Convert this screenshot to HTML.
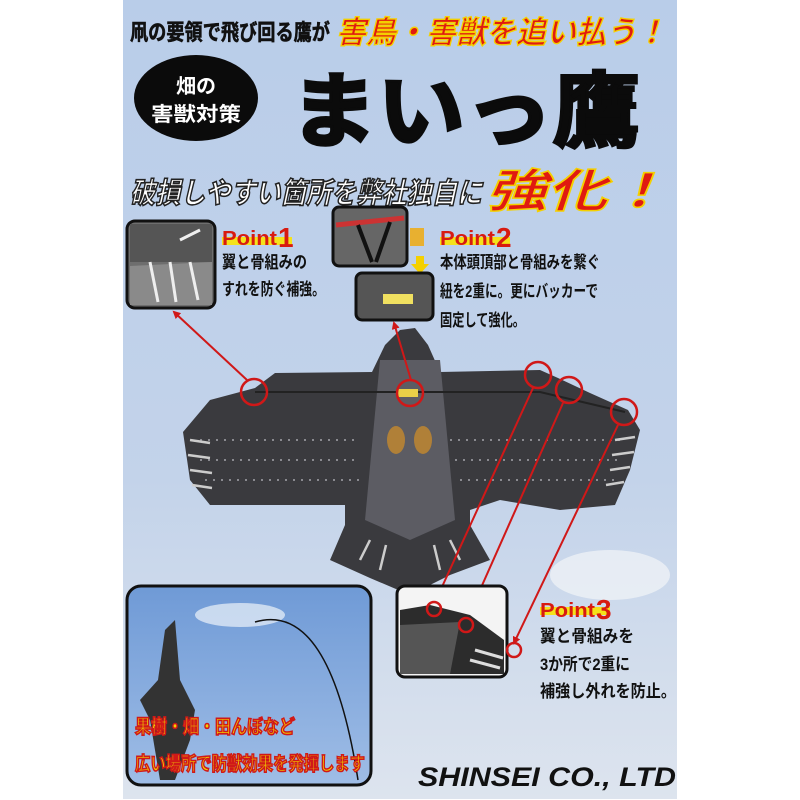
<!DOCTYPE html>
<html><head><meta charset="utf-8"><style>
html,body{margin:0;padding:0;background:#fff;}
svg{display:block}
text{font-family:"Liberation Sans","Noto Sans CJK JP",sans-serif;font-weight:bold}
</style></head><body>
<svg width="800" height="800" viewBox="0 0 800 800" xmlns="http://www.w3.org/2000/svg">
<defs>
<linearGradient id="bg" x1="0" y1="0" x2="0" y2="1">
<stop offset="0" stop-color="#b9cde9"/><stop offset="0.6" stop-color="#c3d3ea"/><stop offset="1" stop-color="#dde4ee"/>
</linearGradient>
<linearGradient id="sky" x1="0" y1="0" x2="0" y2="1">
<stop offset="0" stop-color="#6f9ad6"/><stop offset="1" stop-color="#9fbde6"/>
</linearGradient>
<marker id="ar" markerWidth="8" markerHeight="8" refX="6" refY="4" orient="auto" markerUnits="userSpaceOnUse">
<path d="M0,0 L8,4 L0,8 z" fill="#d01818"/>
</marker>
</defs>
<rect x="123" y="0" width="554" height="799" fill="url(#bg)"/>
<ellipse cx="610" cy="575" rx="60" ry="25" fill="#eef1f6" opacity="0.8"/>

<!-- header -->
<text x="130" y="40" font-size="22" fill="#111" stroke="#111" stroke-width="0.6" textLength="200" lengthAdjust="spacingAndGlyphs">凧の要領で飛び回る鷹が</text>
<text x="336" y="43" font-size="31" fill="#e01a10" stroke="#f4d000" stroke-width="1.4" font-style="italic" textLength="330" lengthAdjust="spacingAndGlyphs">害鳥・害獣を追い払う！</text>
<ellipse cx="196" cy="98" rx="62" ry="43" fill="#0b0b0b"/>
<text x="196" y="93" font-size="20" fill="#fff" text-anchor="middle">畑の</text>
<text x="196" y="121" font-size="20" fill="#fff" text-anchor="middle" textLength="90" lengthAdjust="spacingAndGlyphs">害獣対策</text>
<text x="290" y="140" font-size="82" fill="#0b0b0b" stroke="#0b0b0b" stroke-width="3" textLength="350" lengthAdjust="spacingAndGlyphs">まいっ鷹</text>
<text x="130" y="203" font-size="29" fill="#fff" stroke="#222" stroke-width="1.6" font-style="italic" textLength="352" lengthAdjust="spacingAndGlyphs">破損しやすい箇所を弊社独自に</text>
<text x="486" y="207" font-size="46" fill="#e01a10" stroke="#f4d000" stroke-width="1.5" font-style="italic" textLength="182" lengthAdjust="spacingAndGlyphs">強化！</text>

<!-- point1 inset -->
<rect x="127" y="221" width="88" height="87" rx="8" fill="#6e6e6e" stroke="#111" stroke-width="3"/>
<path d="M130,224 L212,224 L212,262 L130,262 z" fill="#555"/>
<path d="M130,266 L212,262 L212,305 L130,305 z" fill="#8a8a8a"/>
<path d="M150,262 l8,40 M170,262 l6,40 M190,262 l8,38 M180,240 l20,-10" stroke="#eee" stroke-width="3"/>
<rect x="222" y="237" width="70" height="8" fill="#f4e21a"/>
<text x="222" y="245" font-size="20" fill="#d81a10" textLength="55" lengthAdjust="spacingAndGlyphs">Point</text>
<text x="278" y="247" font-size="28" fill="#d81a10">1</text>
<text x="222" y="268" font-size="17" fill="#111" textLength="85" lengthAdjust="spacingAndGlyphs">翼と骨組みの</text>
<text x="222" y="295" font-size="17" fill="#111" textLength="103" lengthAdjust="spacingAndGlyphs">すれを防ぐ補強。</text>

<!-- point2 insets -->
<rect x="333" y="207" width="74" height="59" rx="6" fill="#666" stroke="#111" stroke-width="3"/>
<path d="M336,225 L404,218" stroke="#c33" stroke-width="5"/>
<path d="M358,225 L372,262 M390,222 L376,262" stroke="#111" stroke-width="4"/>
<rect x="410" y="228" width="14" height="18" fill="#e8b030"/>
<path d="M416,256 h8 v8 h5 l-9,10 l-9,-10 h5z" fill="#f4d000"/>
<rect x="356" y="273" width="77" height="47" rx="6" fill="#555" stroke="#111" stroke-width="3"/>
<rect x="383" y="294" width="30" height="10" fill="#f0e060"/>
<rect x="440" y="237" width="70" height="8" fill="#f4e21a"/>
<text x="440" y="245" font-size="20" fill="#d81a10" textLength="55" lengthAdjust="spacingAndGlyphs">Point</text>
<text x="496" y="247" font-size="28" fill="#d81a10">2</text>
<text x="440" y="268" font-size="17" fill="#111" textLength="160" lengthAdjust="spacingAndGlyphs">本体頭頂部と骨組みを繋ぐ</text>
<text x="440" y="297" font-size="17" fill="#111" textLength="158" lengthAdjust="spacingAndGlyphs">紐を2重に。更にバッカーで</text>
<text x="440" y="326" font-size="17" fill="#111" textLength="85" lengthAdjust="spacingAndGlyphs">固定して強化。</text>

<!-- bird -->
<path d="M183,432 L210,400 L255,388 L275,373 L372,372 L385,345 L400,330 L415,328 L428,345 L440,372 L540,370 L558,378 L590,393 L628,410 L640,430 L630,470 L615,505 L560,510 L500,500 L470,510 L470,525 L490,560 L450,575 L410,595 L370,578 L330,560 L345,525 L345,505 L300,505 L210,505 L190,480 z" fill="#3a3a3e"/>
<path d="M380,360 L440,360 L455,520 L410,540 L365,520 z" fill="#5c5c63"/>
<path d="M200,440 L360,440 M200,460 L360,460 M205,480 L360,480 M450,440 L625,440 M455,460 L620,460 M460,480 L615,480" stroke="#8a8a90" stroke-width="2" stroke-dasharray="2,6"/>
<path d="M190,440 l20,3 M188,455 l22,3 M190,470 l22,3 M192,485 l20,3 M615,440 l20,-3 M612,455 l22,-3 M610,470 l20,-3 M606,485 l18,-3 M360,560 l10,-20 M380,570 l6,-25 M440,570 l-6,-25 M460,560 l-10,-20" stroke="#ccc" stroke-width="2.5"/>
<path d="M255,392 L540,392 L625,412" stroke="#222" stroke-width="2" fill="none"/>
<rect x="398" y="389" width="20" height="8" fill="#e8d048"/>
<ellipse cx="396" cy="440" rx="9" ry="14" fill="#b08038"/><ellipse cx="423" cy="440" rx="9" ry="14" fill="#b08038"/>

<!-- circles and lines -->
<g fill="none" stroke="#d01818" stroke-width="2.5">
<circle cx="254" cy="392" r="13"/>
<circle cx="410" cy="393" r="13"/>
<circle cx="538" cy="375" r="13"/>
<circle cx="569" cy="390" r="13"/>
<circle cx="624" cy="412" r="13"/>
</g>
<g stroke="#d01818" stroke-width="2" marker-end="url(#ar)">
<line x1="247" y1="380" x2="174" y2="312"/>
<line x1="411" y1="380" x2="394" y2="323"/>
<line x1="533" y1="388" x2="436" y2="600"/>
<line x1="563" y1="403" x2="468" y2="617"/>
<line x1="618" y1="425" x2="514" y2="643"/>
</g>

<!-- bottom left photo -->
<rect x="127" y="586" width="244" height="199" rx="14" fill="url(#sky)" stroke="#111" stroke-width="3"/>
<ellipse cx="240" cy="615" rx="45" ry="12" fill="#dfe8f5" opacity="0.8"/>
<path d="M255,622 Q330,600 358,780" stroke="#111" stroke-width="1.5" fill="none"/>
<path d="M165,630 L175,620 L180,680 L195,710 L190,740 L175,780 L160,780 L150,720 L140,700 L158,680 z" fill="#333"/>
<text x="135" y="733" font-size="19" fill="#f0d000" stroke="#d01818" stroke-width="1.6" textLength="160" lengthAdjust="spacingAndGlyphs">果樹・畑・田んぼなど</text>
<text x="135" y="770" font-size="19" fill="#f0d000" stroke="#d01818" stroke-width="1.6" textLength="230" lengthAdjust="spacingAndGlyphs">広い場所で防獣効果を発揮します</text>

<!-- point3 inset -->
<rect x="397" y="586" width="110" height="91" rx="8" fill="#f4f4f4" stroke="#111" stroke-width="3"/>
<path d="M400,610 L430,605 L470,615 L504,640 L504,674 L400,674 z" fill="#2c2c2c"/>
<path d="M400,625 L460,622 L450,674 L400,674z" fill="#555"/>
<path d="M475,650 l28,8 M470,660 l30,8" stroke="#ddd" stroke-width="3"/>
<g fill="none" stroke="#d01818" stroke-width="2.5">
<circle cx="434" cy="609" r="7"/><circle cx="466" cy="625" r="7"/><circle cx="514" cy="650" r="7"/>
</g>
<rect x="540" y="607" width="70" height="8" fill="#f4e21a"/>
<text x="540" y="617" font-size="20" fill="#d81a10" textLength="55" lengthAdjust="spacingAndGlyphs">Point</text>
<text x="596" y="619" font-size="28" fill="#d81a10">3</text>
<text x="540" y="642" font-size="17" fill="#111" textLength="94" lengthAdjust="spacingAndGlyphs">翼と骨組みを</text>
<text x="540" y="670" font-size="17" fill="#111" textLength="90" lengthAdjust="spacingAndGlyphs">3か所で2重に</text>
<text x="540" y="697" font-size="17" fill="#111" textLength="136" lengthAdjust="spacingAndGlyphs">補強し外れを防止。</text>

<text x="418" y="786" font-size="27" fill="#111" font-style="italic" textLength="258" lengthAdjust="spacingAndGlyphs">SHINSEI CO., LTD</text>
</svg>
</body></html>
